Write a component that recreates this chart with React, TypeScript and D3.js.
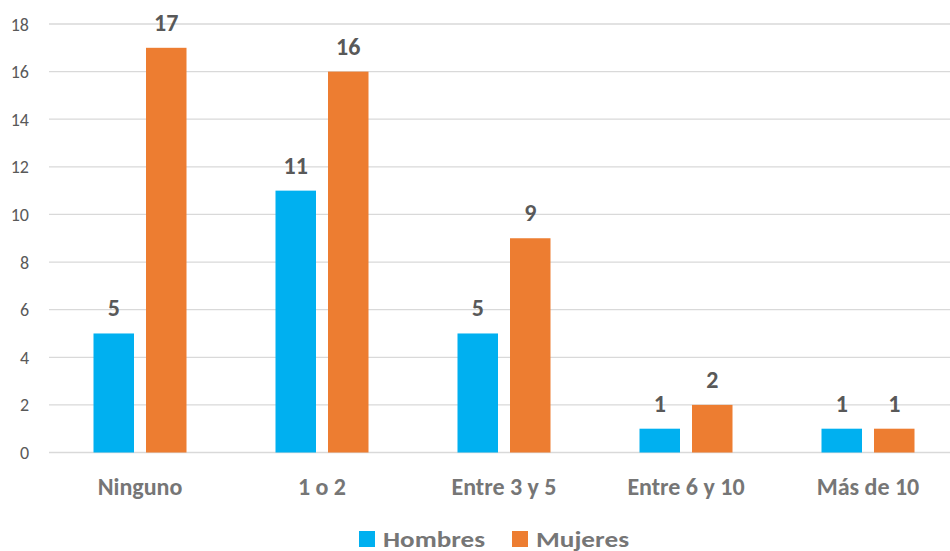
import React from "react";
import * as d3 from "d3";

const categories = ["Ninguno", "1 o 2", "Entre 3 y 5", "Entre 6 y 10", "Más de 10"];
const seriesNames = ["Hombres", "Mujeres"];
const hombres = [5, 11, 5, 1, 1];
const mujeres = [17, 16, 9, 2, 1];
const yTicks = [0, 2, 4, 6, 8, 10, 12, 14, 16, 18];
const colors = ["#00B0F0", "#ED7D31"];

const W = 950;
const H = 551;
const FONT = "Carlito, Lato, 'Open Sans', sans-serif";

export default function App() {
  const x = d3.scaleBand<string>().domain(categories).range([49, 959]);
  const y = d3.scaleLinear().domain([0, 18]).range([452.5, 24]);
  const barW = 40.5;
  const gap = 12;
  const series = [hombres, mujeres];
  const legendX = [359, 512];
  const legendLen = [102, 93];

  return (
    <svg width={W} height={H} style={{ position: "absolute", left: 0, top: 0 }}>
      <rect width={W} height={H} fill="#fff" />
      {yTicks.map((t) => (
        <g key={t}>
          <line x1={49} x2={W} y1={y(t)} y2={y(t)} stroke="#d9d9d9" strokeWidth={1.3} />
          <text x={29} y={y(t) + 6.5} textAnchor="end" fontFamily={FONT} fontSize={18} fill="#595959">
            {t}
          </text>
        </g>
      ))}
      {categories.map((c, i) => {
        const cx = (x(c) as number) + x.bandwidth() / 2;
        return (
          <g key={c}>
            {series.map((s, si) => {
              const bx = cx + (si === 0 ? -gap / 2 - barW : gap / 2);
              return (
                <g key={si}>
                  <rect x={bx} y={y(s[i])} width={barW} height={y(0) - y(s[i])} fill={colors[si]} />
                  <text
                    x={bx + barW / 2}
                    y={y(s[i]) - 17}
                    textAnchor="middle"
                    fontFamily={FONT}
                    fontWeight="bold"
                    fontSize={24}
                    fill="#595959"
                  >
                    {s[i]}
                  </text>
                </g>
              );
            })}
            <text x={cx} y={495} textAnchor="middle" fontFamily={FONT} fontWeight="bold" fontSize={24} fill="#767676">
              {c}
            </text>
          </g>
        );
      })}
      {seriesNames.map((n, i) => {
        const lx = legendX[i];
        return (
          <g key={n}>
            <rect x={lx} y={531} width={16} height={16} fill={colors[i]} />
            <text
              x={lx + 24}
              y={546.5}
              fontFamily={FONT}
              fontWeight="bold"
              fontSize={22}
              fill="#767676"
              textLength={legendLen[i]}
              lengthAdjust="spacingAndGlyphs"
            >
              {n}
            </text>
          </g>
        );
      })}
    </svg>
  );
}
